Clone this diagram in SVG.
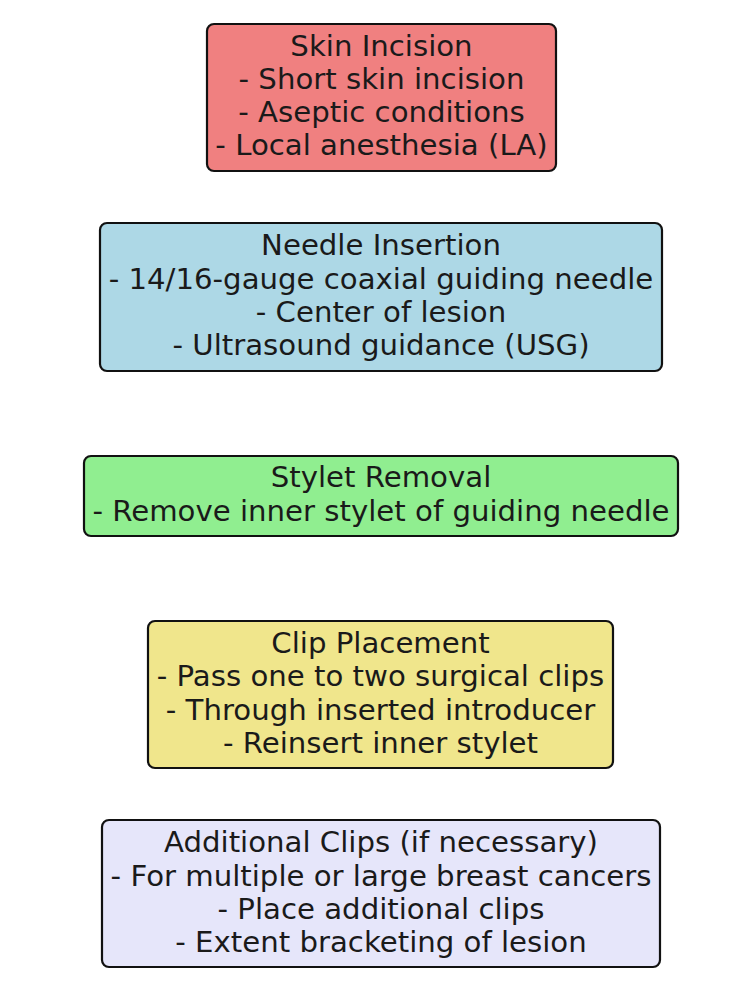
<svg xmlns="http://www.w3.org/2000/svg" width="750" height="1005" viewBox="0 0 750 1005">
<style>
.box{stroke:#111;stroke-width:2.2}
text{font-family:"DejaVu Sans",sans-serif;font-size:29.2px;fill:#1a1a1a;text-anchor:middle}
</style>
<rect width="750" height="1005" fill="#fff"/>
<g id="connectors"></g>
<g id="skin">
<rect class="box" x="207" y="24" width="349" height="147" rx="7" fill="#F08080"/>
<text x="381.5" y="56">Skin Incision</text>
<text x="381.5" y="89">- Short skin incision</text>
<text x="381.5" y="122">- Aseptic conditions</text>
<text x="381.5" y="155">- Local anesthesia (LA)</text>
</g>
<g id="needle">
<rect class="box" x="100" y="223" width="562" height="148" rx="7" fill="#ADD8E6"/>
<text x="381" y="255">Needle Insertion</text>
<text x="381" y="289">- 14/16-gauge coaxial guiding needle</text>
<text x="381" y="322">- Center of lesion</text>
<text x="381" y="355">- Ultrasound guidance (USG)</text>
</g>
<g id="stylet">
<rect class="box" x="84" y="456" width="594" height="80" rx="7" fill="#90EE90"/>
<text x="381" y="487">Stylet Removal</text>
<text x="381" y="521">- Remove inner stylet of guiding needle</text>
</g>
<g id="clip">
<rect class="box" x="148" y="621" width="465" height="147" rx="7" fill="#F0E68C"/>
<text x="380.5" y="653">Clip Placement</text>
<text x="380.5" y="686">- Pass one to two surgical clips</text>
<text x="380.5" y="720">- Through inserted introducer</text>
<text x="380.5" y="753">- Reinsert inner stylet</text>
</g>
<g id="additional">
<rect class="box" x="102" y="820" width="558" height="147" rx="7" fill="#E6E6FA"/>
<text x="381" y="852">Additional Clips (if necessary)</text>
<text x="381" y="886">- For multiple or large breast cancers</text>
<text x="381" y="919">- Place additional clips</text>
<text x="381" y="952">- Extent bracketing of lesion</text>
</g>
</svg>
